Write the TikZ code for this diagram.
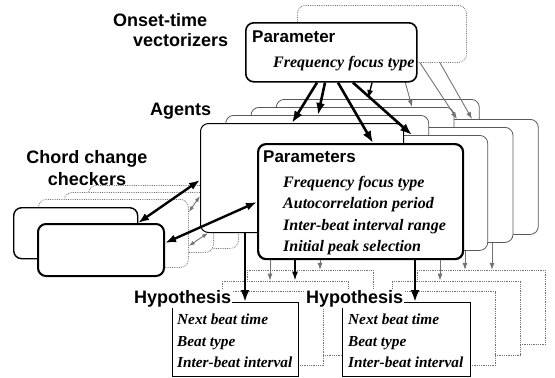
\documentclass[tikz,border=0pt]{standalone}
\usepackage{fontspec}
\setmainfont{Liberation Serif}
\setsansfont{Liberation Sans}
\usetikzlibrary{arrows.meta}

\newcommand{\biglabel}{\sffamily\bfseries\fontsize{18}{21}\selectfont}
\newcommand{\boxtitle}{\sffamily\bfseries\fontsize{17}{20}\selectfont}
\newcommand{\itemfont}{\rmfamily\bfseries\itshape\fontsize{16}{21.5}\selectfont}
\newcommand{\hypfont}{\rmfamily\bfseries\itshape\fontsize{15.3}{21.5}\selectfont}

\begin{document}
\begin{tikzpicture}[x=1pt,y=-1pt,
  box/.style={draw,fill=white,rounded corners=8pt,inner sep=0pt,anchor=north west},
  backbox/.style={box,draw=black!65,line width=0.8pt},
  dotbox/.style={box,draw=black!55,line width=0.8pt,densely dotted},
  hypbox/.style={draw,fill=white,inner sep=0pt,anchor=north west,line width=0.9pt},
  hypback/.style={hypbox,draw=black!55,line width=0.8pt,densely dotted},
  heading/.style={font=\biglabel,inner sep=0pt},
  fatarrow/.style={line width=2.6pt,-{Latex[length=12pt,width=9pt]}},
  midarrow/.style={line width=1.4pt,-{Latex[length=9pt,width=6pt]}},
  greyarrow/.style={draw=black!55,line width=0.9pt,-{Latex[length=7pt,width=5pt]}},
  fatdouble/.style={line width=2.4pt,{Latex[length=11pt,width=8pt]}-{Latex[length=11pt,width=8pt]}},
  greydouble/.style={draw=black!55,line width=0.9pt,{Latex[length=6pt,width=4pt]}-{Latex[length=6pt,width=4pt]}}]
\useasboundingbox (0,0) rectangle (555,378);

\node (checker4) at (88,185) [dotbox,minimum width=150pt,minimum height=63pt] {};
\node (checker3) at (64,192) [dotbox,minimum width=149pt,minimum height=60pt] {};
\node (checker2) at (38,199) [dotbox,minimum width=150pt,minimum height=68pt] {};
\node (checker1) at (13,207) [box,line width=1.4pt,minimum width=124pt,minimum height=51pt] {};
\node (checker0) at (37,223) [box,line width=2pt,minimum width=126pt,minimum height=52pt] {};

\node (vectorizers) at (113,13) [heading,anchor=north west,align=left,font=\sffamily\bfseries\fontsize{18}{20}\selectfont] {Onset-time\\\hspace*{20pt}vectorizers};
\node (agents)      at (150,115) [heading,anchor=base west] {Agents};
\node (checkers)    at (87,150) [heading,anchor=north,align=center,font=\sffamily\bfseries\fontsize{18}{22}\selectfont] {Chord change\\checkers};

\foreach \k in {3,2,1} {
  \node (agent\k) at ({200+25.3*\k},{123-8*\k}) [backbox,minimum width=203pt,minimum height=109pt] {};
  \node (param\k) at ({257+25.3*\k},{143-8*\k}) [backbox,minimum width=205pt,minimum height=115pt] {};
}
\node (agent0) at (200,123) [box,line width=1pt,minimum width=203pt,minimum height=109pt] {};
\node (param0) at (257,143) [box,line width=2.2pt,minimum width=205pt,minimum height=115pt] {};
\node (paramtitle) at (263,162) [anchor=base west,inner sep=0pt,font=\boxtitle] {Parameters};
\node (paramlist)  at (283,176) [anchor=north west,inner sep=0pt,align=left,font=\itemfont] {Frequency focus type\\Autocorrelation period\\Inter-beat interval range\\Initial peak selection};

\foreach \k in {3,2,1} {
  \node (hypl\k) at ({172+25*\k},{302-10.7*\k}) [hypback,minimum width=126pt,minimum height=74pt] {};
  \node (hypr\k) at ({342+25*\k},{302-10.7*\k}) [hypback,minimum width=128pt,minimum height=74pt] {};
}
\node (hypl0) at (172,302) [hypbox,minimum width=126pt,minimum height=74pt] {};
\node (hypr0) at (342,302) [hypbox,minimum width=128pt,minimum height=74pt] {};
\node (hypltitle) at (133,303) [heading,anchor=base west,fill=white,inner sep=1pt] {Hypothesis};
\node (hyprtitle) at (305,303) [heading,anchor=base west,fill=white,inner sep=1pt] {Hypothesis};
\node (hypllist) at (177,314) [anchor=north west,inner sep=0pt,align=left,font=\hypfont] {Next beat time\\Beat type\\Inter-beat interval};
\node (hyprlist) at (348,314) [anchor=north west,inner sep=0pt,align=left,font=\hypfont] {Next beat time\\Beat type\\Inter-beat interval};

\node (vectorback) at (297,5) [dotbox,minimum width=169pt,minimum height=57pt] {};
\draw [greyarrow] (vectorback.south -| 400,0) -- (agent2.north -| 412,0);
\draw [greyarrow] (vectorback.south -| 420,0) -- (param3.north -| 457,0);
\draw [greyarrow] (vectorback.south -| 440,0) -- (param3.north -| 472,0);
\node (vector) at (245,22) [box,line width=1.6pt,minimum width=171pt,minimum height=59pt] {};
\node (vectortitle) at (252,42) [anchor=base west,inner sep=0pt,font=\boxtitle] {Parameter};
\node (vectoritem)  at (273,67) [anchor=base west,inner sep=0pt,font=\itemfont] {Frequency focus type};

\draw [fatarrow] (vector.south -| 317,0) -- (agent0.north -| 292,0);
\draw [fatarrow] (vector.south -| 325,0) -- (agent1.north -| 318,0);
\draw [fatarrow] (vector.south -| 338,0) -- (param0.north -| 373,0);
\draw [fatarrow] (vector.south -| 353,0) -- (param1.north -| 412,0);
\draw [midarrow] (vector.south -| 372,0) -- (agent3.north -| 368,0);

\draw [fatdouble]  (checker0.north -| 138,0) -- (agent0.west |- 0,180);
\draw [fatdouble]  (checker0.east |- 0,243)  -- (param0.west |- 0,202);
\draw [greydouble] (checker2.east |- 0,212)  -- (agent0.west |- 0,196);
\draw [greydouble] (checker2.east |- 0,246)  -- (agent0.south -| 208,0);

\draw [fatarrow]  (agent0.south -| 245,0) -- (hypl0.north -| 245,0);
\draw [fatarrow]  (param0.south -| 415,0) -- (hypr0.north -| 415,0);
\draw [midarrow]  (param0.south -| 295,0) -- (hypl2.north -| 295,0);
\draw [greyarrow] (param0.south -| 270,0) -- (hypl2.north -| 270,0);
\draw [greyarrow] (param0.south -| 320,0) -- (hypl3.north -| 320,0);
\draw [greyarrow] (param0.south -| 440,0) -- (hypr2.north -| 440,0);
\draw [greyarrow] (param1.south -| 465,0) -- (hypr3.north -| 465,0);
\draw [greyarrow] (param2.south -| 492,0) -- (hypr3.north -| 492,0);
\end{tikzpicture}
\end{document}
